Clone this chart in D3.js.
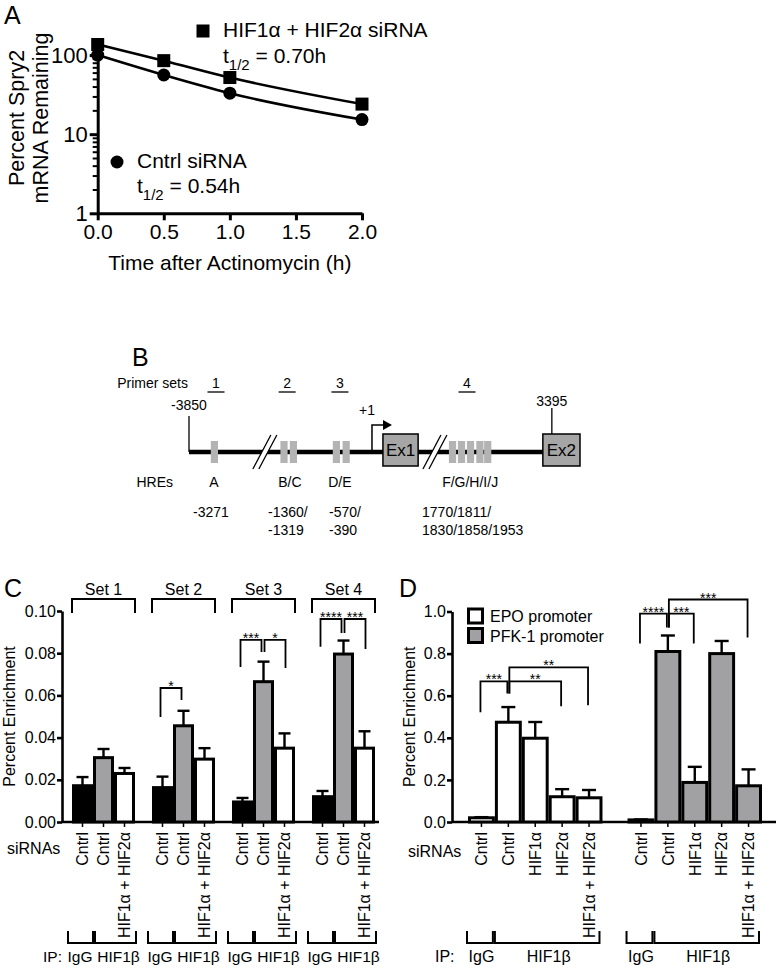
<!DOCTYPE html>
<html><head><meta charset="utf-8">
<script src="https://cdn.jsdelivr.net/npm/d3@7"></script>
<style>
body{margin:0;background:#fff}
svg{font-family:"Liberation Sans",Arial,Helvetica,sans-serif}
</style>
</head><body>
<svg id="fig" width="777" height="968"></svg>
<script>
// ---------------- Panel A data ----------------
const timeHours = [0, 0.5, 1.0, 2.0];
const cntrlRemaining = [100, 56, 33, 15.3];
const hifRemaining = [136, 85, 52, 24];
const timeTicks = [0, 0.5, 1.0, 1.5, 2.0];
const logMajor = [1, 10, 100];
const legendA = [
  {name: "HIF1α + HIF2α siRNA", half: "0.70h", shape: "square"},
  {name: "Cntrl siRNA", half: "0.54h", shape: "circle"}
];

// ---------------- Panel B data (schematic units 0-100) ----------------
const primerSets = ["1", "2", "3", "4"];
const primerPos = [6.9, 25.1, 38.6, 71.1];
const hreNames = ["A", "B/C", "D/E", "F/G/H/I/J"];
const hreNamePos = [6.4, 25.8, 38.6, 71.9];
const hreBoxes = [[6.5], [24.3, 26.7], [37.7, 40.2], [67.4, 69.7, 72.0, 74.4, 76.4]];
const hreSites = [["-3271"], ["-1360/", "-1319"], ["-570/", "-390"], ["1770/1811/", "1830/1858/1953"]];
const hreSitePos = [5.6, 20.2, 35.8, 59.6];
const breaksB = [19.4, 62.9];
const tssPos = 46.8;
const exons = [{name: "Ex1", from: 49.6, to: 58.6}, {name: "Ex2", from: 90.5, to: 100}];
const endLabels = [{txt: "-3850", pos: 0}, {txt: "3395", pos: 92.8}];

// ---------------- Panel C data ----------------
const setNames = ["Set 1", "Set 2", "Set 3", "Set 4"];
const cSiRNAs = ["Cntrl", "Cntrl", "HIF1α + HIF2α"];
const cIgG = [0.0172, 0.0163, 0.0095, 0.0120];
const cIgGErr = [0.0041, 0.0052, 0.0019, 0.0027];
const cCntrl = [0.0305, 0.0456, 0.0665, 0.0796];
const cCntrlErr = [0.0041, 0.0071, 0.0095, 0.0064];
const cHif = [0.0230, 0.0298, 0.0350, 0.0350];
const cHifErr = [0.0026, 0.0052, 0.0070, 0.0080];
const cTicks = [0, 0.02, 0.04, 0.06, 0.08, 0.10];
const sigC = [
  {grp: 1, a: 0, b: 1, top: 0.0635, endA: 0.0498, endB: 0.0578, txt: "*"},
  {grp: 2, a: 0, b: 1, top: 0.0863, endA: 0.0735, endB: 0.0806, txt: "***"},
  {grp: 2, a: 1, b: 2, top: 0.0863, endA: 0.0806, endB: 0.0730, txt: "*"},
  {grp: 3, a: 0, b: 1, top: 0.0962, endA: 0.0830, endB: 0.0896, txt: "****"},
  {grp: 3, a: 1, b: 2, top: 0.0962, endA: 0.0896, endB: 0.0820, txt: "***"}
];

// ---------------- Panel D data ----------------
const dSiRNAs = ["Cntrl", "Cntrl", "HIF1α", "HIF2α", "HIF1α + HIF2α"];
const promoters = ["EPO promoter", "PFK-1 promoter"];
const epoValues = [0.020, 0.474, 0.398, 0.120, 0.115];
const epoErr = [0.003, 0.072, 0.077, 0.036, 0.037];
const pfkValues = [0.010, 0.810, 0.188, 0.800, 0.172];
const pfkErr = [0.002, 0.076, 0.074, 0.060, 0.078];
const dTicks = [0, 0.2, 0.4, 0.6, 0.8, 1.0];
const sigD = [
  {grp: 0, a: 0, b: 1, top: 0.668, endA: 0.521, endB: 0.611, txt: "***"},
  {grp: 0, a: 1, b: 3, top: 0.668, endA: 0.611, endB: 0.550, txt: "**"},
  {grp: 0, a: 1, b: 4, top: 0.735, endA: 0.611, endB: 0.555, txt: "**"},
  {grp: 1, a: 0, b: 1, top: 0.990, endA: 0.848, endB: 0.924, txt: "****"},
  {grp: 1, a: 1, b: 2, top: 0.990, endA: 0.924, endB: 0.848, txt: "***"},
  {grp: 1, a: 1, b: 4, top: 1.057, endA: 0.924, endB: 0.877, txt: "***"}
];

// ====================================================================
const svg = d3.select("#fig");
const GRAY = "#a1a1a4";

function panelLetter(t, x, y) {
  svg.append("text").attr("x", x).attr("y", y).attr("font-size", 25).text(t);
}
panelLetter("A", 4, 24);
panelLetter("B", 132, 366);
panelLetter("C", 4, 597);
panelLetter("D", 399, 597);

// ---------------- Panel A ----------------
(function () {
  const g = svg.append("g");
  const xA = d3.scaleLinear().domain([0, 2]).range([97.7, 362]);
  const yA = d3.scaleLog().domain([1, 155]).range([213.3, 40]);
  const minor = yA.ticks().filter(v => !logMajor.includes(v));
  g.append("g").attr("transform", `translate(${xA(0)},0)`)
    .call(d3.axisLeft(yA).tickValues(minor).tickSize(5).tickFormat(""))
    .call(a => a.select(".domain").remove())
    .call(a => a.selectAll("line").attr("stroke-width", 2));
  g.append("g").attr("transform", `translate(${xA(0)},0)`)
    .call(d3.axisLeft(yA).tickValues(logMajor).tickSize(8).tickSizeOuter(0).tickPadding(2).tickFormat(d3.format("d")))
    .call(a => a.select(".domain").attr("stroke-width", 3))
    .call(a => a.selectAll("line").attr("stroke-width", 3))
    .call(a => a.selectAll("text").attr("font-size", 22).attr("font-family", "Liberation Sans, Arial"));
  g.append("g").attr("transform", `translate(0,${yA(1)})`)
    .call(d3.axisBottom(xA).tickValues(timeTicks).tickSize(7).tickSizeOuter(0).tickPadding(4).tickFormat(d3.format(".1f")))
    .call(a => a.select(".domain").attr("stroke-width", 3))
    .call(a => a.selectAll("line").attr("stroke-width", 3))
    .call(a => a.selectAll("text").attr("font-size", 21).attr("font-family", "Liberation Sans, Arial"));
  g.append("text").attr("x", (xA(0) + xA(2)) / 2).attr("y", 270).attr("text-anchor", "middle")
    .attr("font-size", 21).text("Time after Actinomycin (h)");
  g.append("text").attr("transform", "translate(24,118) rotate(-90)").attr("text-anchor", "middle")
    .attr("font-size", 21.5).text("Percent Spry2");
  g.append("text").attr("transform", "translate(48,118) rotate(-90)").attr("text-anchor", "middle")
    .attr("font-size", 21.5).text("mRNA Remaining");

  const line = d3.line().x((d, i) => xA(timeHours[i])).y(d => yA(d)).curve(d3.curveMonotoneX);
  [cntrlRemaining, hifRemaining].forEach(s => {
    g.append("path").attr("d", line(s)).attr("fill", "none").attr("stroke", "#000").attr("stroke-width", 2.6);
  });
  g.selectAll("circle.pt").data(cntrlRemaining).join("circle").attr("class", "pt")
    .attr("cx", (d, i) => xA(timeHours[i])).attr("cy", d => yA(d)).attr("r", 6.5).attr("fill", "#000");
  g.selectAll("rect.pt").data(hifRemaining).join("rect").attr("class", "pt")
    .attr("x", (d, i) => xA(timeHours[i]) - 6.5).attr("y", d => yA(d) - 6.5)
    .attr("width", 13).attr("height", 13).attr("fill", "#000");

  const legPos = [{mx: 203, my: 31, tx: 223, ty: 37, ty2: 63}, {mx: 117, my: 162, tx: 137, ty: 168, ty2: 193}];
  legendA.forEach((L, i) => {
    const p = legPos[i];
    if (L.shape === "square") g.append("rect").attr("x", p.mx - 6.5).attr("y", p.my - 6.5).attr("width", 13).attr("height", 13);
    else g.append("circle").attr("cx", p.mx).attr("cy", p.my).attr("r", 6.5);
    g.append("text").attr("x", p.tx).attr("y", p.ty).attr("font-size", 21).text(L.name);
    const t = g.append("text").attr("x", p.tx).attr("y", p.ty2).attr("font-size", 21);
    t.append("tspan").text("t");
    t.append("tspan").attr("font-size", 15).attr("dy", 7).text("1/2");
    t.append("tspan").attr("dy", -7).text(" = " + L.half);
  });
})();

// ---------------- Panel B ----------------
(function () {
  const g = svg.append("g").attr("font-size", 14);
  const sB = d3.scaleLinear().domain([0, 100]).range([189, 580]);
  const yLine = 452;
  g.append("text").attr("x", 188).attr("y", 388).attr("text-anchor", "end").text("Primer sets");
  g.append("text").attr("x", 173).attr("y", 487).attr("text-anchor", "end").text("HREs");
  primerSets.forEach((p, i) => {
    const x = sB(primerPos[i]);
    g.append("text").attr("x", x).attr("y", 388).attr("text-anchor", "middle").text(p);
    g.append("line").attr("x1", x - 8.5).attr("x2", x + 8.5).attr("y1", 392).attr("y2", 392).attr("stroke", "#000").attr("stroke-width", 1.3);
  });
  g.append("line").attr("x1", sB(0)).attr("x2", sB(100)).attr("y1", yLine).attr("y2", yLine).attr("stroke", "#000").attr("stroke-width", 4.5);
  breaksB.forEach(b => {
    const x = sB(b);
    g.append("polygon").attr("points", `${x - 9},${yLine + 15} ${x - 3},${yLine + 15} ${x + 9},${yLine - 15} ${x + 3},${yLine - 15}`).attr("fill", "#fff");
    [-3, 3].forEach(o => {
      g.append("line").attr("x1", x + o - 9).attr("y1", yLine + 17).attr("x2", x + o + 9).attr("y2", yLine - 17)
        .attr("stroke", "#000").attr("stroke-width", 1.3);
    });
  });
  hreBoxes.forEach(grp => grp.forEach(c => {
    g.append("rect").attr("x", sB(c) - 3.6).attr("y", 441).attr("width", 7.2).attr("height", 22).attr("fill", "#b3b3b3");
  }));
  hreNames.forEach((n, i) => g.append("text").attr("x", sB(hreNamePos[i])).attr("y", 487).attr("text-anchor", "middle").text(n));
  hreSites.forEach((lines, i) => {
    lines.forEach((t, j) => {
      g.append("text").attr("x", sB(hreSitePos[i])).attr("y", 517 + j * 17.5)
        .attr("text-anchor", lines.length === 1 ? "middle" : "start").text(t);
    });
  });
  g.append("line").attr("x1", sB(0)).attr("x2", sB(0)).attr("y1", 416).attr("y2", yLine).attr("stroke", "#000").attr("stroke-width", 1.3);
  const xt = sB(tssPos);
  g.append("path").attr("d", `M${xt},${yLine} V425 H${xt + 13}`).attr("fill", "none").attr("stroke", "#000").attr("stroke-width", 1.5);
  g.append("path").attr("d", `M${xt + 20},425 L${xt + 11},420 L${xt + 11},430 Z`).attr("fill", "#000");
  g.append("text").attr("x", xt - 5).attr("y", 415).attr("text-anchor", "middle").text("+1");
  exons.forEach(e => {
    g.append("rect").attr("x", sB(e.from)).attr("y", 434).attr("width", sB(e.to) - sB(e.from)).attr("height", 32)
      .attr("fill", "#a6a6a6").attr("stroke", "#000").attr("stroke-width", 1.5);
    g.append("text").attr("x", (sB(e.from) + sB(e.to)) / 2).attr("y", 456).attr("text-anchor", "middle").attr("font-size", 17).text(e.name);
  });
  g.append("line").attr("x1", sB(92.8)).attr("x2", sB(92.8)).attr("y1", 408).attr("y2", 434).attr("stroke", "#000").attr("stroke-width", 1.3);
  endLabels.forEach(l => g.append("text").attr("x", sB(l.pos)).attr("y", l.pos === 0 ? 410 : 406).attr("text-anchor", "middle").text(l.txt));
})();

// ---------------- helpers for C & D ----------------
function drawYAxis(g, y, x0, ticks, fmt) {
  g.append("g").attr("transform", `translate(${x0},0)`)
    .call(d3.axisLeft(y).tickValues(ticks).tickSize(5).tickSizeOuter(0).tickPadding(1).tickFormat(d3.format(fmt)))
    .call(a => a.select(".domain").attr("stroke-width", 2.6))
    .call(a => a.selectAll("line").attr("stroke-width", 2.6))
    .call(a => a.selectAll("text").attr("font-size", 16).attr("font-family", "Liberation Sans, Arial"));
}
function drawBar(g, x, w, y, v, err, fill, cap) {
  const y0 = y(0);
  g.append("line").attr("x1", x + w / 2).attr("x2", x + w / 2).attr("y1", y(v)).attr("y2", y(v + err)).attr("stroke", "#000").attr("stroke-width", 2.4);
  g.append("line").attr("x1", x + w / 2 - cap).attr("x2", x + w / 2 + cap).attr("y1", y(v + err)).attr("y2", y(v + err)).attr("stroke", "#000").attr("stroke-width", 2.4);
  g.append("rect").attr("x", x + 1.5).attr("y", y(v)).attr("width", w - 3).attr("height", Math.max(0, y0 - y(v)))
    .attr("fill", fill).attr("stroke", "#000").attr("stroke-width", 3);
}
function sigBracket(g, x1, x2, yTop, yA, yB, txt) {
  g.append("path").attr("d", `M${x1},${yA} V${yTop} H${x2} V${yB}`).attr("fill", "none").attr("stroke", "#000").attr("stroke-width", 1.8);
  g.append("text").attr("x", (x1 + x2) / 2).attr("y", yTop + 3).attr("text-anchor", "middle").attr("font-size", 14).text(txt);
}
function ipBracket(g, x1, x2) {
  g.append("path").attr("d", `M${x1},931 V943 H${x2} V931`).attr("fill", "none").attr("stroke", "#000").attr("stroke-width", 2);
}
function rotLabel(g, x, t) {
  g.append("text").attr("transform", `translate(${x},832) rotate(-90)`).attr("text-anchor", "end").attr("dy", "0.36em")
    .attr("font-size", 16).text(t);
}

// ---------------- Panel C ----------------
(function () {
  const g = svg.append("g");
  const yC = d3.scaleLinear().domain([0, 0.10]).range([822, 611]);
  const xG = d3.scaleBand().domain(setNames).range([72, 375]).paddingInner(17 / 80).paddingOuter(0);
  const xB = d3.scaleBand().domain([0, 1, 2]).range([0, xG.bandwidth()]);
  const w = xB.bandwidth();
  drawYAxis(g, yC, 62, cTicks, ".2f");
  g.append("line").attr("x1", 62).attr("x2", 379).attr("y1", yC(0)).attr("y2", yC(0)).attr("stroke", "#000").attr("stroke-width", 2.6);
  g.append("text").attr("transform", `translate(15,${(yC(0) + yC(0.1)) / 2}) rotate(-90)`).attr("text-anchor", "middle").attr("font-size", 16).text("Percent Enrichment");
  g.append("text").attr("x", 7).attr("y", 854).attr("font-size", 16).text("siRNAs");
  g.append("text").attr("x", 43).attr("y", 962).attr("font-size", 15.5).text("IP:");
  const series = [[cIgG, cIgGErr, "#000"], [cCntrl, cCntrlErr, GRAY], [cHif, cHifErr, "#fff"]];
  setNames.forEach((s, gi) => {
    const gx = xG(s);
    series.forEach((ser, bi) => {
      drawBar(g, gx + xB(bi), w, yC, ser[0][gi], ser[1][gi], ser[2], 6);
      const cx = gx + xB(bi) + w / 2;
      g.append("line").attr("x1", cx).attr("x2", cx).attr("y1", yC(0)).attr("y2", yC(0) + 5).attr("stroke", "#000").attr("stroke-width", 1.5);
      rotLabel(g, cx, cSiRNAs[bi]);
    });
    g.append("path").attr("d", `M${gx},613 V599 H${gx + xG.bandwidth()} V613`).attr("fill", "none").attr("stroke", "#000").attr("stroke-width", 2);
    g.append("text").attr("x", gx + xG.bandwidth() / 2).attr("y", 595).attr("text-anchor", "middle").attr("font-size", 16).text(s);
    ipBracket(g, gx - 4, gx + w);
    ipBracket(g, gx + w + 2, gx + 3 * w + 1);
    g.append("text").attr("x", gx + 8).attr("y", 962).attr("text-anchor", "middle").attr("font-size", 15.5).text("IgG");
    g.append("text").attr("x", gx + 46.5).attr("y", 962).attr("text-anchor", "middle").attr("font-size", 15.5).text("HIF1β");
  });
  sigC.forEach(d => {
    const gx = xG(setNames[d.grp]);
    const x1 = gx + xB(d.a) + w / 2 + (d.a === 0 ? -2 : 1);
    const x2 = gx + xB(d.b) + w / 2 + (d.b === 2 ? 1 : -2);
    sigBracket(g, x1, x2, yC(d.top), yC(d.endA), yC(d.endB), d.txt);
  });
})();

// ---------------- Panel D ----------------
(function () {
  const g = svg.append("g");
  const yD = d3.scaleLinear().domain([0, 1]).range([822, 611.5]);
  const xG = d3.scaleBand().domain(promoters).range([468, 762]).paddingInner(0.157).paddingOuter(0);
  const xB = d3.scaleBand().domain(d3.range(dSiRNAs.length)).range([0, xG.bandwidth()]);
  const w = xB.bandwidth();
  drawYAxis(g, yD, 452, dTicks, ".1f");
  g.append("line").attr("x1", 452).attr("x2", 776).attr("y1", yD(0)).attr("y2", yD(0)).attr("stroke", "#000").attr("stroke-width", 2.6);
  g.append("text").attr("transform", `translate(415,${(yD(0) + yD(1)) / 2}) rotate(-90)`).attr("text-anchor", "middle").attr("font-size", 16).text("Percent Enrichment");
  g.append("text").attr("x", 408).attr("y", 857).attr("font-size", 16).text("siRNAs");
  g.append("text").attr("x", 435).attr("y", 962).attr("font-size", 16).text("IP:");
  const series = [[epoValues, epoErr, "#fff"], [pfkValues, pfkErr, GRAY]];
  promoters.forEach((p, gi) => {
    const gx = xG(p);
    const [vals, errs, fill] = series[gi];
    vals.forEach((v, bi) => {
      drawBar(g, gx + xB(bi), w, yD, v, errs[bi], fill, 7);
      const cx = gx + xB(bi) + w / 2;
      g.append("line").attr("x1", cx).attr("x2", cx).attr("y1", yD(0)).attr("y2", yD(0) + 5).attr("stroke", "#000").attr("stroke-width", 1.5);
      rotLabel(g, cx, dSiRNAs[bi]);
    });
    ipBracket(g, gx - 1, gx + w - 2);
    ipBracket(g, gx + w, gx + 5 * w - 3);
    g.append("text").attr("x", gx + w / 2).attr("y", 962).attr("text-anchor", "middle").attr("font-size", 16).text("IgG");
    g.append("text").attr("x", gx + 3 * w).attr("y", 962).attr("text-anchor", "middle").attr("font-size", 16).text("HIF1β");
  });
  sigD.forEach(d => {
    const gx = xG(promoters[d.grp]);
    const x1 = gx + xB(d.a) + w / 2 + (d.a === 0 ? -1 : 1);
    const x2 = gx + xB(d.b) + w / 2 - 1;
    sigBracket(g, x1, x2, yD(d.top), yD(d.endA), yD(d.endB), d.txt);
  });
  promoters.forEach((p, i) => {
    g.append("rect").attr("x", 468.5).attr("y", 609 + i * 19.5).attr("width", 14).attr("height", 14)
      .attr("fill", i === 0 ? "#fff" : GRAY).attr("stroke", "#000").attr("stroke-width", 3);
    g.append("text").attr("x", 490).attr("y", 622 + i * 19.5).attr("font-size", 16).text(p);
  });
})();
</script>
</body></html>
